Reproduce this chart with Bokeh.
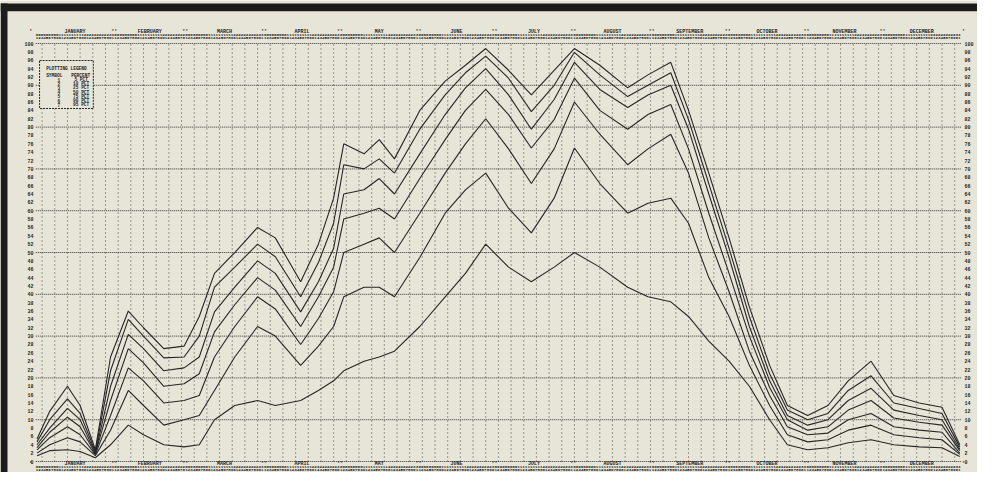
from bokeh.plotting import figure
from bokeh.models import Range1d
from bokeh.core.properties import value
from bokeh.embed import file_html
from bokeh.resources import INLINE

# ---------------- data ----------------
days = [1, 6, 13, 18, 24, 30, 37, 43, 51, 59, 65, 71, 79, 88, 95, 105, 112, 118, 122, 130,
        136, 142, 152, 162, 170, 178, 187, 196, 205, 213, 223, 234, 242, 251, 258, 266, 274,
        282, 290, 297, 305, 313, 321, 330, 339, 349, 358, 365]

s7 = [5.4, 12, 18, 13.4, 2.8, 25, 36, 32, 27, 27.6, 34.7, 45, 50, 56, 53.5, 43, 52, 63, 76, 73.6,
      77, 72.4, 84, 91, 94.8, 98.8, 93.6, 87.7, 93.6, 98.8, 94.8, 89.4, 92.5, 95.5, 84, 69, 53.5,
      37, 23, 13.4, 11, 13.4, 19.3, 24, 15.8, 14, 13, 4]
s6 = [4.7, 10, 15, 11.5, 2.4, 21.7, 34, 30, 24.8, 25, 30, 41.7, 46.5, 52, 49, 39.4, 47.6, 57, 71, 70,
      72.4, 69, 79.5, 87.7, 93, 97, 91.7, 83.7, 90, 97.9, 92.5, 87.3, 90, 93, 81.8, 66.5, 51,
      34.7, 21, 12.3, 10, 11.5, 17, 20.5, 14, 12.7, 11.5, 3.5]
s5 = [4, 8, 12.7, 10, 2, 18, 30.4, 27, 21.7, 22.4, 25, 35.8, 41.7, 48, 45, 35.8, 43, 51, 64, 65,
      67.7, 64, 73.6, 83, 89.4, 94, 87.7, 79.5, 86.6, 95.5, 89, 84.7, 87.7, 90, 79.5, 64, 48.8,
      32.3, 19.3, 11, 8.7, 10, 14.6, 17.5, 12.3, 11, 10, 3]
s4 = [3.3, 7, 10.6, 8.3, 1.9, 14.6, 27, 23.6, 18, 18.6, 21, 31, 37.5, 44, 41, 32.3, 39.4, 46.5, 58, 59.4,
      60.6, 58, 67.7, 77, 84, 89, 83, 75, 81.8, 91.7, 84, 79.5, 83, 85.4, 74.8, 59.4, 45,
      30, 17.7, 10, 7.5, 8.3, 12.3, 14.6, 10.4, 9.4, 8.7, 2.6]
s3 = [2.8, 5.7, 8.3, 6.4, 1.7, 11, 22.4, 19.3, 14, 14.6, 15.8, 25, 32.3, 39.4, 36.5, 28, 34.2, 40.6, 50, 52,
      53.5, 50, 59.4, 69, 76, 82, 74.8, 66.5, 74.8, 86, 78.3, 71, 74.8, 78.3, 69, 53.5, 40.6,
      26.4, 15.8, 8.3, 6.4, 6.8, 10, 11.5, 8.3, 7.5, 7, 2]
s2 = [2, 4, 5.7, 4.7, 1.4, 7.5, 17, 13.4, 8.7, 10, 11, 17, 25, 32.3, 30, 23, 27.6, 32.3, 39.4, 41.7,
      41.7, 39.4, 48.8, 59.4, 65, 69, 60.6, 54.7, 63, 75, 66.5, 59.4, 61.8, 63, 57, 44, 34.7,
      23, 13.4, 6.4, 4.7, 5.2, 7.5, 8.7, 6.4, 5.7, 5.2, 1.7]
s1 = [1.4, 2.6, 2.8, 2.4, 0.9, 4, 8.7, 6.4, 4, 3.5, 4, 10, 13.4, 14.6, 13.4, 14.6, 17, 19.3, 21.7, 24,
      25, 26.4, 32.3, 39.4, 45, 52, 46.5, 43, 46.5, 50, 46.5, 41.7, 39.4, 38.2, 34.7, 28.8, 24,
      18, 10, 4, 2.8, 3.3, 4.5, 5.2, 4, 3.5, 3.3, 1.2]

months = ["JANUARY", "FEBRUARY", "MARCH", "APRIL", "MAY", "JUNE", "JULY", "AUGUST",
          "SEPTEMBER", "OCTOBER", "NOVEMBER", "DECEMBER"]
month_days = [31, 28, 31, 30, 31, 30, 31, 31, 30, 31, 30, 31]

legend_symbols = ["1", "2", "3", "4", "5", "6", "7"]
legend_percent = ["5 PCT", "10 PCT", "25 PCT", "50 PCT", "75 PCT", "90 PCT", "95 PCT"]

y_ticks = list(range(0, 101, 2))

# ---------------- style ----------------
PAPER = "#e7e5d7"
INK = "#262626"
DARK = "#1c1c1c"
MONO = value("Liberation Mono")

# the frame covers the whole figure; every mark is placed in data units
# (day of year on x, percent on y)
X0, X1 = -13.41, 372.0
Y0, Y1 = -2.63, 110.29

p = figure(width=977, height=472, output_backend="svg", toolbar_location=None,
           x_range=Range1d(X0, X1), y_range=Range1d(Y0, Y1),
           x_axis_location=None, y_axis_location=None,
           min_border_left=0, min_border_right=0, min_border_top=0, min_border_bottom=0)
p.background_fill_color = PAPER
p.border_fill_color = PAPER
p.outline_line_color = None
p.xgrid.visible = False
p.ygrid.visible = False

# dark scanned edges of the sheet
p.quad(left=[X0], right=[X1], bottom=[107.7], top=[109.6], fill_color=DARK, line_color=None)
p.quad(left=[X0], right=[-10.65], bottom=[Y0], top=[109.6], fill_color=DARK, line_color=None)

# vertical dotted grid every 5 days
vx = list(range(3, 366, 5))
p.segment(x0=vx, y0=[0] * len(vx), x1=vx, y1=[100] * len(vx),
          line_color="#484848", line_width=1, line_dash="1 3")
# horizontal dotted rows every 10 percent
hy = list(range(0, 101, 10))
p.segment(x0=[0.5] * len(hy), y0=hy, x1=[365.5] * len(hy), y1=hy,
          line_color="#333333", line_width=1, line_dash="1 1")

# left / right percent labels
lab = [str(t) for t in y_ticks]
p.text(x=[-0.4] * len(y_ticks), y=y_ticks, text=lab, text_font=MONO, text_font_size="5px",
       text_font_style="bold", text_color=INK, text_align="right", text_baseline="middle")
p.text(x=[366.9] * len(y_ticks), y=y_ticks, text=lab, text_font=MONO, text_font_size="5px",
       text_font_style="bold", text_color=INK, text_align="left", text_baseline="middle")

# header / footer rows: month names, ** markers, day-of-month digits
starts = []
s = 1
for n in month_days:
    starts.append(s)
    s += n

mid_x = [st + n / 2 - 0.5 for st, n in zip(starts, month_days)]
bnd_x = [st - 0.5 for st in starts[1:]]
tens = ["".join(str(d // 10) for d in range(1, n + 1)) for n in month_days]
units = ["".join(str(d % 10) for d in range(1, n + 1)) for n in month_days]
left_x = [st - 0.5 for st in starts]

for y_name, y_tens, y_units in ((102.87, 102.03, 101.2), (-0.6, -1.39, -2.15)):
    p.text(x=mid_x, y=[y_name] * 12, text=months, text_font=MONO, text_font_size="5px",
           text_font_style="bold", text_color=INK, text_align="center", text_baseline="middle")
    p.text(x=bnd_x + [-1.5, 366.5], y=[y_name] * 13, text=["**"] * 11 + ["*", "*"],
           text_font=MONO, text_font_size="5px", text_color=INK,
           text_align="center", text_baseline="middle")
    p.text(x=left_x, y=[y_tens] * 12, text=tens, text_font=MONO, text_font_size="4.22px",
           text_font_style="bold", text_color=INK, text_align="left", text_baseline="middle")
    p.text(x=left_x, y=[y_units] * 12, text=units, text_font=MONO, text_font_size="4.22px",
           text_font_style="bold", text_color=INK, text_align="left", text_baseline="middle")

# plotted series
for ser in (s1, s2, s3, s4, s5, s6, s7):
    p.line(days, ser, line_color=INK, line_width=1.1)

# plotting legend box (upper left)
p.quad(left=[2.0], right=[23.2], bottom=[84.45], top=[95.93], fill_color=PAPER,
       line_color=INK, line_width=1, line_dash="2 1")
p.text(x=[12.6], y=[94.0], text=["PLOTTING LEGEND"], text_font=MONO, text_font_size="4.5px",
       text_font_style="bold", text_color=INK, text_align="center", text_baseline="middle")
p.text(x=[7.8, 18.2], y=[92.34, 92.34], text=["SYMBOL", "PERCENT"], text_font=MONO,
       text_font_size="4.5px", text_font_style="bold", text_color=INK,
       text_align="center", text_baseline="middle")
rows_y = [91.32, 90.36, 89.4, 88.35, 87.4, 86.36, 85.4]
p.text(x=[9.6] * 7, y=rows_y, text=legend_symbols, text_font=MONO, text_font_size="4.5px",
       text_font_style="bold", text_color=INK, text_align="center", text_baseline="middle")
p.text(x=[18.4] * 7, y=rows_y, text=legend_percent, text_font=MONO, text_font_size="4.5px",
       text_font_style="bold", text_color=INK, text_align="center", text_baseline="middle")

open("out.html", "w").write(file_html(p, INLINE))
